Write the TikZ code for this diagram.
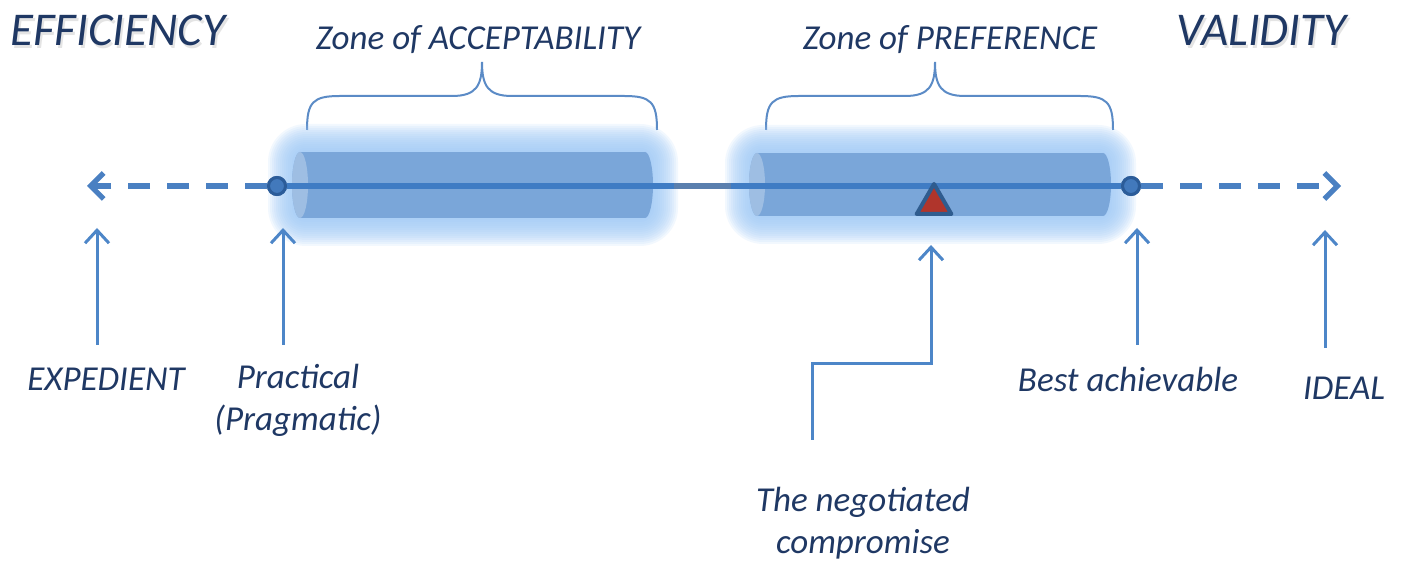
\documentclass[tikz,border=0pt]{standalone}
\usepackage{fontspec}
\setmainfont{Carlito}
\usetikzlibrary{arrows.meta,shapes.geometric}
\definecolor{axisc}{HTML}{3F7CC4}
\definecolor{midc}{HTML}{5A7FAE}
\definecolor{dashc}{HTML}{4A80C2}
\definecolor{arrc}{HTML}{4D86C8}
\definecolor{bracec}{HTML}{5B8BC6}
\definecolor{glowc}{HTML}{9EC8F5}
\definecolor{cylc}{HTML}{7AA6D9}
\definecolor{capc}{HTML}{A7C4E6}
\definecolor{txtc}{HTML}{1F3864}
\definecolor{dotfill}{HTML}{4279BC}
\definecolor{dotedge}{HTML}{2B5C99}
\definecolor{trifill}{HTML}{B0352C}
\definecolor{triedge}{HTML}{2F5C8F}
\newcommand\glowbox[4]{%
  \foreach \d in {2,4,...,28}{%
    \pgfmathsetmacro\rr{0.5*\d+5}%
    \fill[glowc,opacity=0.13,rounded corners=\rr pt] ({#1-\d},{#2-\d}) rectangle ({#3+\d},{#4+\d});
  }%
}
\newcommand\cylbody[4]{%
  \fill[cylc] (#1,#2) rectangle (#3,#4);
  \fill[cylc] (#3,{(#2+#4)/2}) ellipse[x radius=4pt,y radius={0.25*(#4-#2)*1pt}];
  \fill[cylc] (#1,{(#2+#4)/2}) ellipse[x radius=4pt,y radius={0.25*(#4-#2)*1pt}];
  \fill[capc,opacity=0.8] (#1,{(#2+#4)/2}) ellipse[x radius=4pt,y radius={0.25*(#4-#2)*1pt}];
}
\begin{document}
\begin{tikzpicture}[x=0.5pt,y=-0.5pt,
  txt/.style={text=txtc,font=\fontsize{17.5}{21}\selectfont\itshape,inner sep=0pt,align=center},
  title/.style={text=txtc,font=\fontsize{23.5}{28}\selectfont\itshape,inner sep=0pt},
  shadowtxt/.style={text=gray!60,opacity=0.35,font=\fontsize{23.5}{28}\selectfont\itshape,inner sep=0pt},
  axisline/.style={draw=axisc,line width=2.8pt},
  dashline/.style={draw=dashc,line width=2.6pt,dash pattern=on 11pt off 8.5pt,-{Straight Barb[length=6.5pt,width=13pt,line width=2.6pt]}},
  uparrow/.style={draw=arrc,line width=1.5pt,-{Straight Barb[length=6.5pt,width=12pt,line width=1.5pt]}},
  brace/.style={draw=bracec,line width=1pt},
  dot/.style={circle,fill=dotfill,draw=dotedge,line width=1.5pt,minimum size=8.5pt,inner sep=0pt},
  tri/.style={regular polygon,regular polygon sides=3,fill=trifill,draw=triedge,line width=2pt,line join=round,minimum size=20pt,inner sep=0pt}
]
\useasboundingbox (0,0) rectangle (1402,565);

% titles
\node[shadowtxt,anchor=base west] at (12,49) {EFFICIENCY};
\node[title,anchor=base west] (eff) at (10,46) {EFFICIENCY};
\node[shadowtxt,anchor=base west] at (1178,49) {VALIDITY};
\node[title,anchor=base west] (val) at (1176,46) {VALIDITY};

% zone titles
\node[txt,anchor=base] (zacc) at (478,50) {Zone of ACCEPTABILITY};
\node[txt,anchor=base] (zpref) at (950,50) {Zone of PREFERENCE};

% braces
\draw[brace] (307,130) .. controls (307,102) and (313,96) .. (340,96) -- (452,96)
  .. controls (476,96) and (482,86) .. (482,62)
  .. controls (482,86) and (488,96) .. (512,96) -- (624,96)
  .. controls (651,96) and (657,102) .. (657,130);
\draw[brace] (766,130) .. controls (766,102) and (772,96) .. (799,96) -- (905,96)
  .. controls (929,96) and (935,86) .. (935,62)
  .. controls (935,86) and (941,96) .. (965,96) -- (1080,96)
  .. controls (1107,96) and (1113,102) .. (1113,130);

% glows and cylinders
\glowbox{296}{152}{650}{218}
\glowbox{753}{153}{1108}{216}
\cylbody{300}{152}{645}{218}
\cylbody{757}{153}{1103}{216}

% axis
\node[dot] (dL) at (277,186) {};
\node[dot] (dR) at (1131,186) {};
\coordinate (tipL) at (87,186);
\coordinate (tipR) at (1341,186);
\coordinate (gapA) at (674,186);
\coordinate (gapB) at (731,186);
\draw[axisline] (dL) -- (dR);
\draw[draw=midc,line width=2.8pt] (gapA) -- (gapB);
\draw[dashline] (dL) -- (tipL);
\draw[dashline] (dR) -- (tipR);
\node[dot] at (277,186) {};
\node[dot] at (1131,186) {};

% triangle
\node[tri] (tri) at (934,204) {};

% pointer arrows
\coordinate (eB) at (97,345);   \coordinate (eT) at (97,228);
\coordinate (pB) at (283,345);  \coordinate (pT) at (283,228);
\coordinate (bB) at (1137,345); \coordinate (bT) at (1137,228);
\coordinate (iB) at (1325,348); \coordinate (iT) at (1325,230);
\coordinate (cS) at (812,440);  \coordinate (cK) at (812,364);
\coordinate (cK2) at (931,364); \coordinate (cT) at (931,245);
\draw[uparrow] (eB) -- (eT);
\draw[uparrow] (pB) -- (pT);
\draw[uparrow] (bB) -- (bT);
\draw[uparrow] (iB) -- (iT);
\draw[uparrow] (cS) -- (cK) -- (cK2) -- (cT);

% labels
\node[txt,anchor=base] (lexp) at (106,391) {EXPEDIENT};
\node[txt,anchor=base] (lprac) at (298,431) {Practical\\(Pragmatic)};
\node[txt,anchor=base] (lbest) at (1128,392) {Best achievable};
\node[txt,anchor=base] (lideal) at (1344,400) {IDEAL};
\node[txt,anchor=base] (lcomp) at (863,554) {The negotiated\\compromise};
\end{tikzpicture}
\end{document}
